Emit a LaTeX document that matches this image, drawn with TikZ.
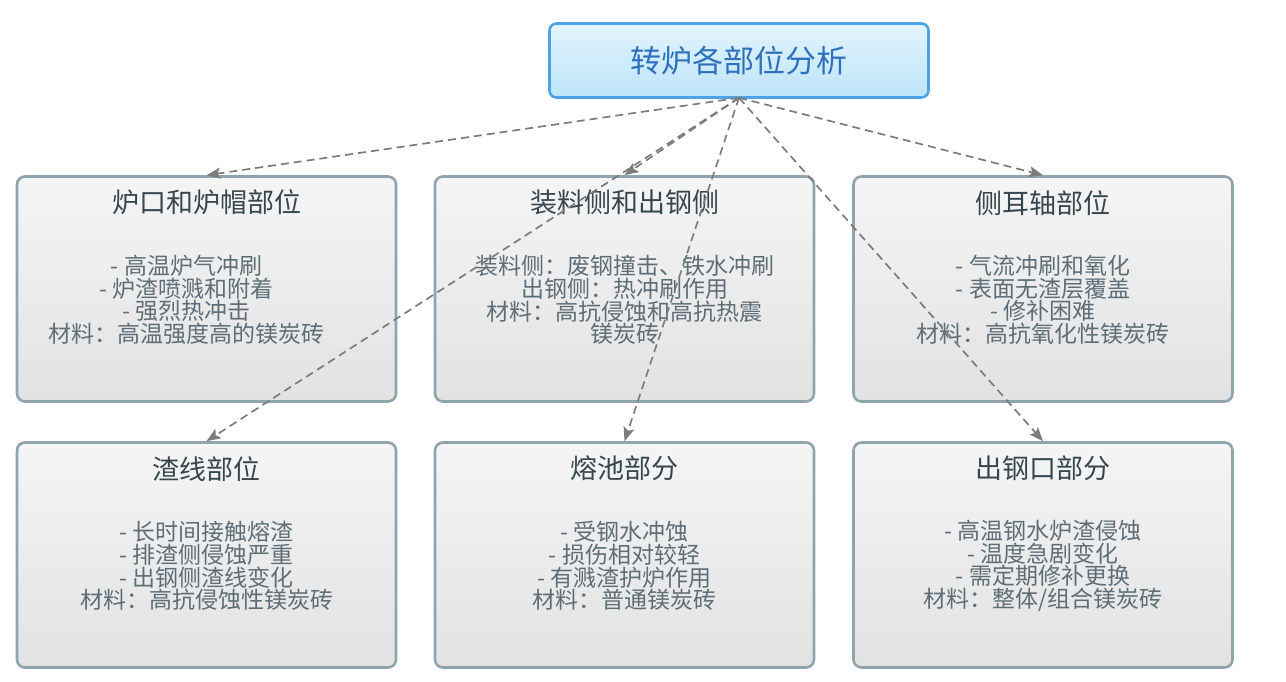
\documentclass[tikz,border=0pt]{standalone}
\usepackage{fontspec}
\setmainfont{Noto Sans CJK SC}
\usetikzlibrary{arrows.meta}
\definecolor{boxline}{HTML}{90A4AE}
\definecolor{boxtop}{HTML}{F5F5F5}
\definecolor{boxbot}{HTML}{E2E2E2}
\definecolor{headline}{HTML}{4DA3E8}
\definecolor{headtop}{HTML}{E3F4FD}
\definecolor{headbot}{HTML}{BCE4F9}
\definecolor{headtext}{HTML}{2E70BE}
\definecolor{parttext}{HTML}{37474F}
\definecolor{bodytext}{HTML}{5E6E78}
\definecolor{flowgray}{HTML}{7C7C7C}

\begin{document}
\begin{tikzpicture}[x=1pt,y=1pt,
  part/.style={draw=boxline,line width=2.6pt,rounded corners=8pt,top color=boxtop,bottom color=boxbot,
    minimum width=379pt,minimum height=225pt,inner sep=0pt},
  parttitle/.style={text=parttext,font=\fontsize{27}{30}\selectfont,inner sep=0pt},
  partbody/.style={align=center,text=bodytext,font=\fontsize{23}{22.6}\selectfont,inner sep=0pt},
  flow/.style={draw=flowgray,line width=1.7pt,dash pattern=on 8pt off 5pt,
    -{Stealth[length=14pt,width=11pt,inset=3pt]}}]
\path[use as bounding box] (0,0) rectangle (1286,682);

% head box
\node[draw=headline,line width=2.6pt,rounded corners=7pt,top color=headtop,bottom color=headbot,
  minimum width=379pt,minimum height=74pt,text=headtext,font=\fontsize{31}{34}\selectfont] (head) at (739,621.5) {转炉各部位分析};

% part boxes
\node[part] (mouth) at (206.5,393) {};
\node[part] (sides) at (624.5,393) {};
\node[part] (trunnion) at (1043,393) {};
\node[part] (slag) at (206.5,127) {};
\node[part] (bath) at (624.5,127) {};
\node[part] (taphole) at (1043,127) {};

% titles
\node[parttitle] (mouth-t) at ([yshift=-27.5pt]mouth.north) {炉口和炉帽部位};
\node[parttitle] (sides-t) at ([yshift=-27.5pt]sides.north) {装料侧和出钢侧};
\node[parttitle] (trunnion-t) at ([yshift=-27.5pt]trunnion.north) {侧耳轴部位};
\node[parttitle] (slag-t) at ([yshift=-27.5pt]slag.north) {渣线部位};
\node[parttitle] (bath-t) at ([yshift=-27.5pt]bath.north) {熔池部分};
\node[parttitle] (taphole-t) at ([yshift=-27.5pt]taphole.north) {出钢口部分};

% texts
\node[partbody] (mouth-b) at ([xshift=-20pt,yshift=-11pt]mouth.center) {- 高温炉气冲刷\\- 炉渣喷溅和附着\\- 强烈热冲击\\材料：高温强度高的镁炭砖};
\node[partbody] (sides-b) at ([yshift=-11pt]sides.center) {装料侧：废钢撞击、铁水冲刷\\出钢侧：热冲刷作用\\材料：高抗侵蚀和高抗热震\\镁炭砖};
\node[partbody] (trunnion-b) at ([yshift=-11pt]trunnion.center) {- 气流冲刷和氧化\\- 表面无渣层覆盖\\- 修补困难\\材料：高抗氧化性镁炭砖};
\node[partbody] (slag-b) at ([yshift=-11pt]slag.center) {- 长时间接触熔渣\\- 排渣侧侵蚀严重\\- 出钢侧渣线变化\\材料：高抗侵蚀性镁炭砖};
\node[partbody] (bath-b) at ([yshift=-11pt]bath.center) {- 受钢水冲蚀\\- 损伤相对较轻\\- 有溅渣护炉作用\\材料：普通镁炭砖};
\node[partbody] (taphole-b) at ([yshift=-11pt]taphole.center) {- 高温钢水炉渣侵蚀\\- 温度急剧变化\\- 需定期修补更换\\材料：整体/组合镁炭砖};

% arrows
\foreach \dest in {mouth,sides,trunnion,slag,bath,taphole}
  \draw[flow] ([yshift=1pt]head.south) -- (\dest.north);
\end{tikzpicture}
\end{document}
